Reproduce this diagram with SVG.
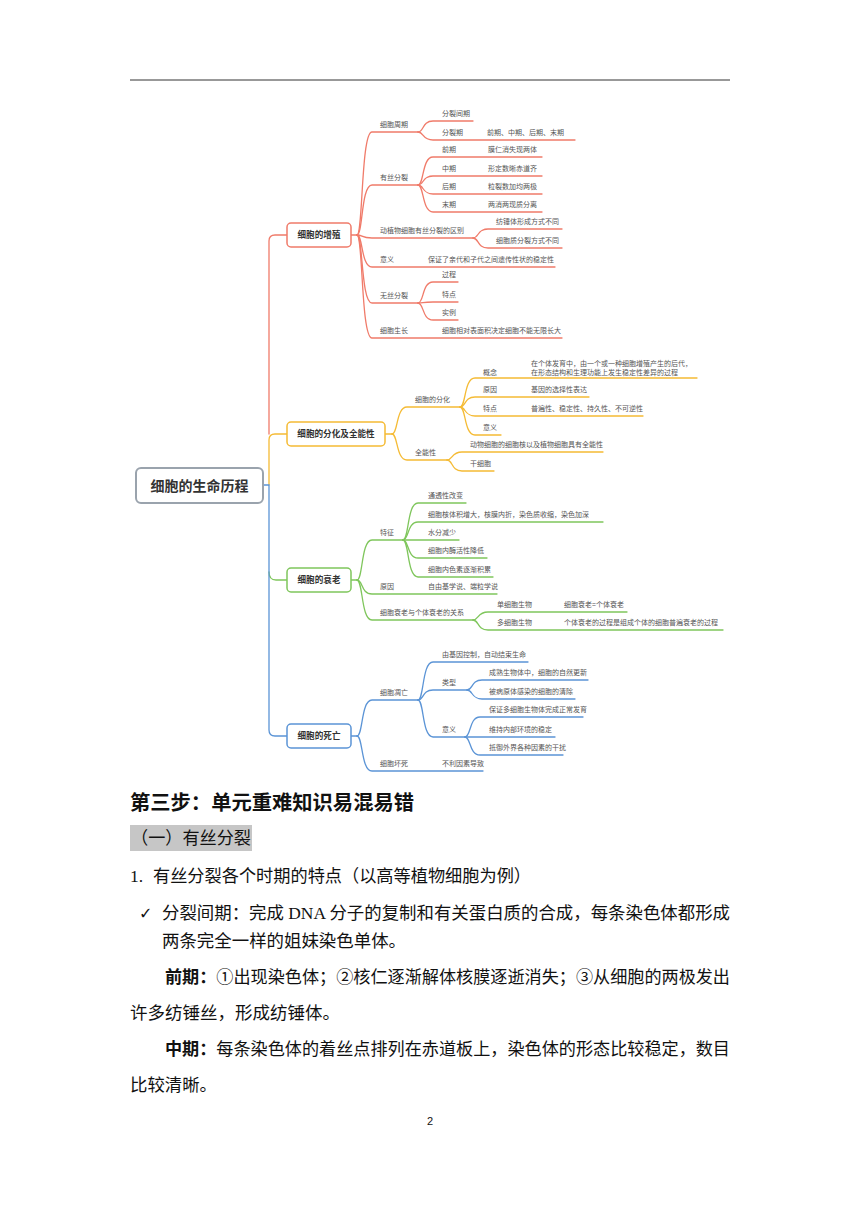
<svg xmlns="http://www.w3.org/2000/svg" width="860" height="1216" viewBox="0 0 860 1216">
<style>
.bg{fill:#fff}
.c{fill:none;stroke-width:1.3;stroke-linecap:round}
.r{stroke:#f07b6a}.y{stroke:#f5bb35}.g{stroke:#7fc65c}.b{stroke:#5b94d6}
.t{font-family:"Noto Sans CJK SC","Liberation Sans",sans-serif;font-size:7px;fill:#555}
.l1{font-family:"Noto Sans CJK SC","Liberation Sans",sans-serif;font-size:8.6px;font-weight:bold;fill:#333;text-anchor:middle}
.box{fill:#fff;stroke-width:1.5}
.body{font-family:"Liberation Serif","Noto Sans CJK SC",serif;font-size:17.5px;fill:#111}
.bold{font-weight:bold}
</style>
<rect class="bg" width="860" height="1216"/>
<line x1="130" y1="80" x2="730" y2="80" stroke="#333" stroke-width="1"/>

<g id="connectors">
<!-- trunk -->
<path class="c r" stroke-width="1.6" d="M269,434 V241 Q269,235 275,235 H287"/>
<path class="c y" stroke-width="1.6" d="M269,485 V440 Q269,434 275,434 H287"/>
<path class="c g" stroke-width="1.6" d="M269,572 Q269,580 276,580 H287"/>
<path class="c b" stroke-width="1.6" d="M263,485 H269 V730 Q269,736 275,736 H287"/>
<!-- red -->
<g class="c r">
<path d="M351,235 H357"/>
<path d="M357,235 C363,235 361,132 372,132 H418"/>
<path d="M418,132 C424,132 422,121 433,121 H473"/>
<path d="M418,132 C424,132 422,140 433,140 H575"/>
<path d="M357,235 C363,235 361,185 372,185 H418"/>
<path d="M418,185 C424,185 422,157 433,157 H542"/>
<path d="M418,185 C424,185 422,176 433,176 H542"/>
<path d="M418,185 C424,185 422,194 433,194 H542"/>
<path d="M418,185 C424,185 422,212 433,212 H542"/>
<path d="M357,235 C363,235 361,238 372,238 H473"/>
<path d="M473,238 C479,238 477,229 488,229 H562"/>
<path d="M473,238 C479,238 477,248 488,248 H562"/>
<path d="M357,235 C363,235 361,267 372,267 H555"/>
<path d="M357,235 C363,235 361,303 372,303 H418"/>
<path d="M418,303 C424,303 422,282 433,282 H458"/>
<path d="M418,303 C424,303 422,302 433,302 H458"/>
<path d="M418,303 C424,303 422,320 433,320 H458"/>
<path d="M357,235 C363,235 361,338 372,338 H562"/>
</g>
<!-- yellow -->
<g class="c y">
<path d="M385,434 H392"/>
<path d="M392,434 C398,434 396,407 407,407 H460"/>
<path d="M460,407 C466,407 464,378 475,378 H697"/>
<path d="M460,407 C466,407 464,397 475,397 H589"/>
<path d="M460,407 C466,407 464,416 475,416 H643"/>
<path d="M460,407 C466,407 464,435 475,435 H501"/>
<path d="M392,434 C398,434 396,460 407,460 H447"/>
<path d="M447,460 C453,460 451,452 462,452 H603"/>
<path d="M447,460 C453,460 451,471 462,471 H494"/>
</g>
<!-- green -->
<g class="c g">
<path d="M351,580 H357"/>
<path d="M357,580 C363,580 361,540 372,540 H403"/>
<path d="M403,540 C409,540 407,503 418,503 H466"/>
<path d="M403,540 C409,540 407,522 418,522 H603"/>
<path d="M403,540 H459"/>
<path d="M403,540 C409,540 407,558 418,558 H487"/>
<path d="M403,540 C409,540 407,577 418,577 H493"/>
<path d="M357,580 C363,580 361,594 372,594 H497"/>
<path d="M357,580 C363,580 361,620 372,620 H473"/>
<path d="M473,620 C479,620 477,612 488,612 H627"/>
<path d="M473,620 C479,620 477,630 488,630 H723"/>
</g>
<!-- blue -->
<g class="c b">
<path d="M351,736 H357"/>
<path d="M357,736 C363,736 361,700 372,700 H418"/>
<path d="M418,700 C424,700 422,662 433,662 H528"/>
<path d="M418,700 C424,700 422,690 433,690 H467"/>
<path d="M467,690 C473,690 471,680 482,680 H588"/>
<path d="M467,690 C473,690 471,699 482,699 H575"/>
<path d="M418,700 C424,700 422,737 433,737 H465"/>
<path d="M465,737 C471,737 469,717 480,717 H583"/>
<path d="M465,737 H555"/>
<path d="M465,737 C471,737 469,755 480,755 H563"/>
<path d="M357,736 C363,736 361,771 372,771 H483"/>
</g>
</g>

<g id="root">
<rect x="136" y="468" width="127" height="35" rx="5" fill="#fff" stroke="#9aa3ad" stroke-width="2"/>
<text x="199.5" y="490.5" font-family="Noto Sans CJK SC, Liberation Sans, sans-serif" font-size="14" font-weight="bold" fill="#333" text-anchor="middle">细胞的生命历程</text>
</g>
<g id="n-zengzhi"><rect class="box r" x="287" y="223" width="64" height="24" rx="4"/><text class="l1" x="319" y="238">细胞的增殖</text></g>
<g id="n-fenhua"><rect class="box y" x="287" y="422" width="98" height="24" rx="4"/><text class="l1" x="336" y="437">细胞的分化及全能性</text></g>
<g id="n-shuailao"><rect class="box g" x="287" y="568" width="64" height="24" rx="4"/><text class="l1" x="319" y="583">细胞的衰老</text></g>
<g id="n-siwang"><rect class="box b" x="287" y="724" width="64" height="24" rx="4"/><text class="l1" x="319" y="739">细胞的死亡</text></g>

<g id="red-nodes" class="t">
<g id="n-zhouqi"><text x="380" y="127">细胞周期</text></g>
<g id="n-jianqi"><text x="442" y="116">分裂间期</text></g>
<g id="n-fenlieqi"><text x="442" y="135">分裂期</text><text x="487" y="135">前期、中期、后期、末期</text></g>
<g id="n-yousi"><text x="380" y="180">有丝分裂</text></g>
<g id="n-qianqi"><text x="442" y="152">前期</text><text x="488" y="152">膜仁消失现两体</text></g>
<g id="n-zhongqi"><text x="442" y="171">中期</text><text x="488" y="171">形定数晰赤道齐</text></g>
<g id="n-houqi"><text x="442" y="189">后期</text><text x="488" y="189">粒裂数加均两极</text></g>
<g id="n-moqi"><text x="442" y="207">末期</text><text x="488" y="207">两消两现质分离</text></g>
<g id="n-qubie"><text x="380" y="233">动植物细胞有丝分裂的区别</text></g>
<g id="n-fangchui"><text x="496" y="224">纺锤体形成方式不同</text></g>
<g id="n-xibaozhi"><text x="496" y="243">细胞质分裂方式不同</text></g>
<g id="n-yiyi1"><text x="380" y="262">意义</text><text x="428" y="262">保证了亲代和子代之间遗传性状的稳定性</text></g>
<g id="n-wusi"><text x="380" y="298">无丝分裂</text></g>
<g id="n-guocheng"><text x="442" y="277">过程</text></g>
<g id="n-tedian1"><text x="442" y="297">特点</text></g>
<g id="n-shili"><text x="442" y="315">实例</text></g>
<g id="n-shengzhang"><text x="380" y="333">细胞生长</text><text x="442" y="333">细胞相对表面积决定细胞不能无限长大</text></g>
</g>

<g id="yellow-nodes" class="t">
<g id="n-fenhua2"><text x="415" y="402">细胞的分化</text></g>
<g id="n-gainian"><text x="483" y="375">概念</text><text x="531" y="366">在个体发育中，由一个或一种细胞增殖产生的后代，</text><text x="531" y="375">在形态结构和生理功能上发生稳定性差异的过程</text></g>
<g id="n-yuanyin1"><text x="483" y="392">原因</text><text x="531" y="392">基因的选择性表达</text></g>
<g id="n-tedian2"><text x="483" y="411">特点</text><text x="531" y="411">普遍性、稳定性、持久性、不可逆性</text></g>
<g id="n-yiyi2"><text x="483" y="430">意义</text></g>
<g id="n-quanneng"><text x="415" y="455">全能性</text></g>
<g id="n-quanneng1"><text x="470" y="447">动物细胞的细胞核以及植物细胞具有全能性</text></g>
<g id="n-gan"><text x="470" y="466">干细胞</text></g>
</g>

<g id="green-nodes" class="t">
<g id="n-tezheng"><text x="380" y="535">特征</text></g>
<g id="n-tz1"><text x="428" y="498">通透性改变</text></g>
<g id="n-tz2"><text x="428" y="517">细胞核体积增大，核膜内折，染色质收缩，染色加深</text></g>
<g id="n-tz3"><text x="428" y="535">水分减少</text></g>
<g id="n-tz4"><text x="428" y="553">细胞内酶活性降低</text></g>
<g id="n-tz5"><text x="428" y="572">细胞内色素逐渐积累</text></g>
<g id="n-yuanyin2"><text x="380" y="589">原因</text><text x="428" y="589">自由基学说、端粒学说</text></g>
<g id="n-guanxi"><text x="380" y="615">细胞衰老与个体衰老的关系</text></g>
<g id="n-dan"><text x="497" y="607">单细胞生物</text><text x="564" y="607">细胞衰老=个体衰老</text></g>
<g id="n-duo"><text x="497" y="625">多细胞生物</text><text x="564" y="625">个体衰老的过程是组成个体的细胞普遍衰老的过程</text></g>
</g>

<g id="blue-nodes" class="t">
<g id="n-diaowang"><text x="380" y="695">细胞凋亡</text></g>
<g id="n-jiyin"><text x="442" y="657">由基因控制，自动结束生命</text></g>
<g id="n-leixing"><text x="442" y="685">类型</text></g>
<g id="n-lx1"><text x="489" y="675">成熟生物体中，细胞的自然更新</text></g>
<g id="n-lx2"><text x="489" y="694">被病原体感染的细胞的清除</text></g>
<g id="n-yiyi3"><text x="442" y="732">意义</text></g>
<g id="n-yy1"><text x="489" y="712">保证多细胞生物体完成正常发育</text></g>
<g id="n-yy2"><text x="489" y="732">维持内部环境的稳定</text></g>
<g id="n-yy3"><text x="489" y="750">抵御外界各种因素的干扰</text></g>
<g id="n-huaisi"><text x="380" y="766">细胞坏死</text><text x="442" y="766">不利因素导致</text></g>
</g>

<g id="page-text">
<text x="130" y="810" font-family="Noto Sans CJK SC, Liberation Sans, sans-serif" font-size="20" font-weight="bold" fill="#111" textLength="284" lengthAdjust="spacingAndGlyphs">第三步：单元重难知识易混易错</text>
<rect x="130" y="825" width="122" height="26" fill="#c6c6c6"/>
<text class="body" x="131" y="844" textLength="120" lengthAdjust="spacingAndGlyphs">（一）有丝分裂</text>
<text class="body" x="130" y="882">1.</text>
<text class="body" x="153" y="882" textLength="378" lengthAdjust="spacingAndGlyphs">有丝分裂各个时期的特点（以高等植物细胞为例）</text>
<text x="139" y="919" font-family="DejaVu Sans, sans-serif" font-size="16" fill="#111">✓</text>
<text class="body" x="162" y="919" textLength="568" lengthAdjust="spacingAndGlyphs">分裂间期：完成 DNA 分子的复制和有关蛋白质的合成，每条染色体都形成</text>
<text class="body" x="162" y="947" textLength="244" lengthAdjust="spacingAndGlyphs">两条完全一样的姐妹染色单体。</text>
<text class="body" x="165" y="983" textLength="565" lengthAdjust="spacingAndGlyphs"><tspan class="bold">前期：</tspan>①出现染色体；②核仁逐渐解体核膜逐逝消失；③从细胞的两极发出</text>
<text class="body" x="130" y="1019" textLength="210" lengthAdjust="spacingAndGlyphs">许多纺锤丝，形成纺锤体。</text>
<text class="body" x="165" y="1055" textLength="565" lengthAdjust="spacingAndGlyphs"><tspan class="bold">中期：</tspan>每条染色体的着丝点排列在赤道板上，染色体的形态比较稳定，数目</text>
<text class="body" x="130" y="1091" textLength="87" lengthAdjust="spacingAndGlyphs">比较清晰。</text>
<text x="430" y="1125" font-family="Liberation Sans, sans-serif" font-size="11" fill="#111" text-anchor="middle">2</text>
</g>
</svg>
